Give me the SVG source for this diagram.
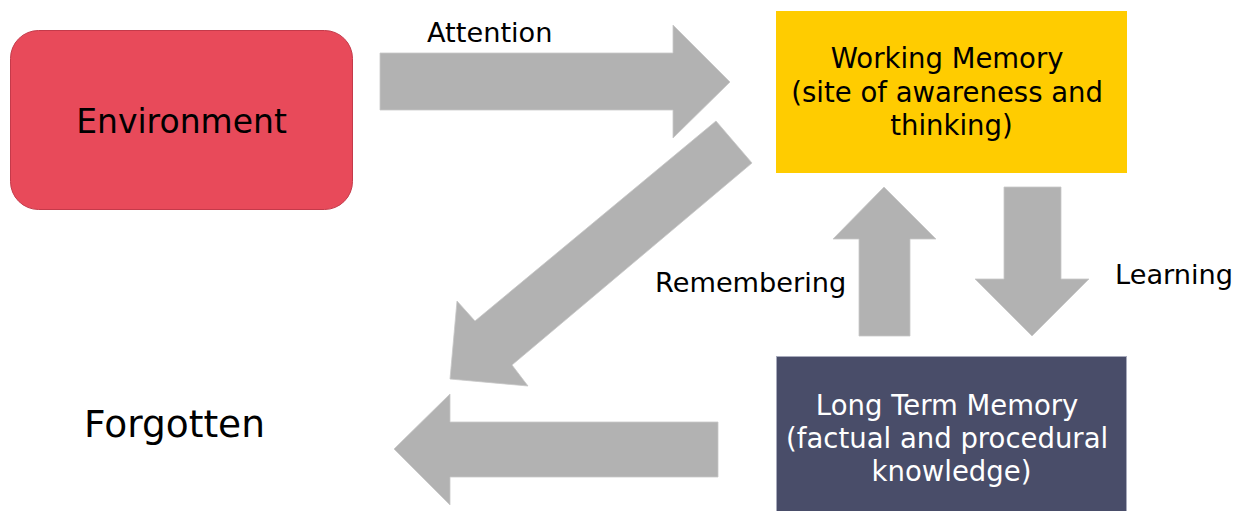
<svg xmlns="http://www.w3.org/2000/svg" width="1245" height="511" viewBox="0 0 1245 511">
  <style>
    text { font-family: "DejaVu Sans", Verdana, sans-serif; }
    .lbl { font-size: 27.2px; fill: #000; }
    .box { font-size: 27.5px; text-anchor: middle; }
    .arrow { fill: #B2B2B2; stroke: #C8C8C8; stroke-width: 0.8; }
  </style>
  <rect width="1245" height="511" fill="#FFFFFF"/>

  <g id="connectors">
    <polygon id="attention-arrow" class="arrow" points="380,53 673,53 673,25 730,82 673,138 673,110 380,110"/>
    <polygon id="forget-wm-arrow" class="arrow" points="716,121 752,163 512,365 528,386 450,379 457,301 475,321"/>
    <polygon id="remember-arrow" class="arrow" points="859,336 859,239 833,239 884,187 936,239 910,239 910,336"/>
    <polygon id="learn-arrow" class="arrow" points="1004,187 1061,187 1061,279 1089,279 1032,336 975,279 1004,279"/>
    <polygon id="forget-ltm-arrow" class="arrow" points="718,422 718,477 450,477 450,505 394,449 450,394 450,422"/>
    <text class="lbl" x="427" y="42">Attention</text>
    <text class="lbl" x="655" y="292">Remembering</text>
    <text class="lbl" x="1115" y="284">Learning</text>
  </g>

  <g id="environment">
    <rect x="10.5" y="30.5" width="342" height="179" rx="28" ry="28" fill="#E84A5A" stroke="#C43A4A" stroke-width="1"/>
    <text x="181.5" y="133" font-size="33" text-anchor="middle" fill="#000">Environment</text>
  </g>

  <g id="working-memory">
    <rect x="776" y="11" width="351" height="162" fill="#FFCC00"/>
    <text class="box" fill="#000">
      <tspan x="951.5" y="68">Working Memory</tspan>
      <tspan x="951.5" y="102">(site of awareness and</tspan>
      <tspan x="951.5" y="135">thinking)</tspan>
    </text>
  </g>

  <g id="long-term-memory">
    <rect x="776.5" y="356.5" width="350" height="160" fill="#494D69" stroke="#A8ABBC" stroke-width="1"/>
    <text class="box" fill="#FFFFFF">
      <tspan x="951.5" y="415">Long Term Memory</tspan>
      <tspan x="951.5" y="448">(factual and procedural</tspan>
      <tspan x="951.5" y="481">knowledge)</tspan>
    </text>
  </g>

  <g id="forgotten">
    <text x="84" y="437" font-size="37.5" fill="#000">Forgotten</text>
  </g>
</svg>
